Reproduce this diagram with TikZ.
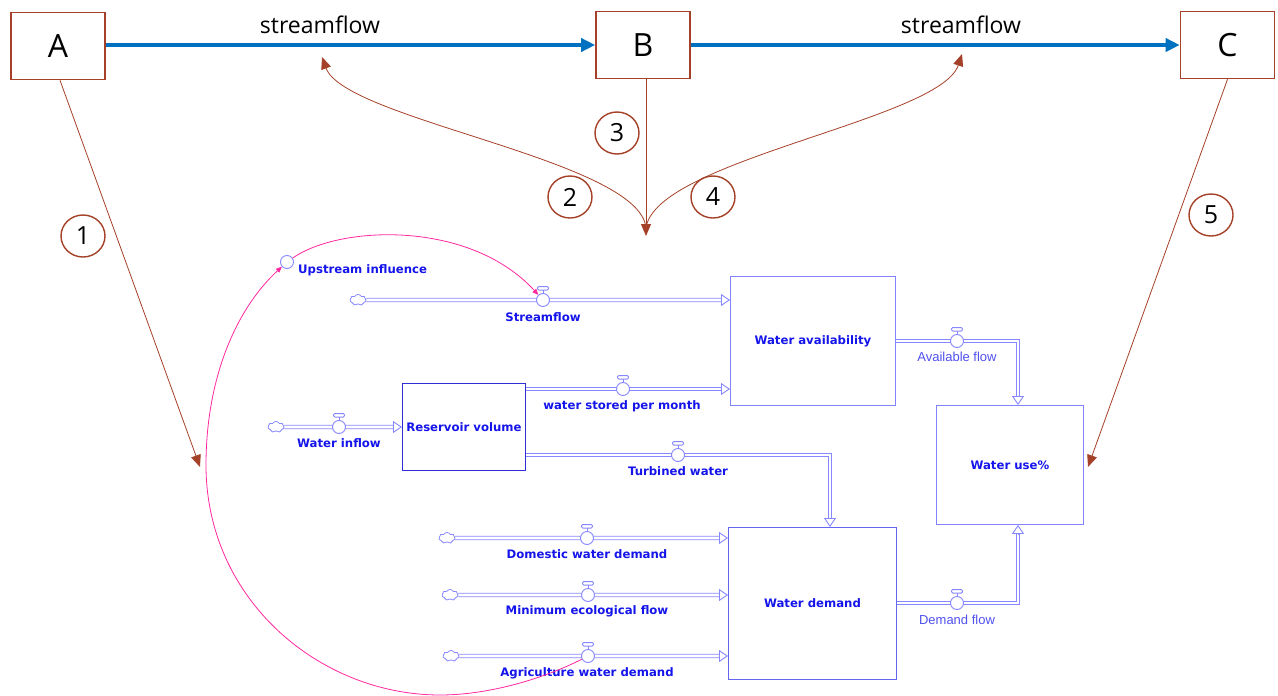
\documentclass[tikz,border=0pt]{standalone}
\usepackage{fontspec}
\setmainfont{Open Sans}
\newfontfamily\vfont{DejaVu Sans}
\newfontfamily\lfont{Liberation Sans}
\usetikzlibrary{arrows.meta,shapes.symbols,shapes.geometric,calc}

\definecolor{brn}{RGB}{165,65,40}
\definecolor{strm}{RGB}{0,112,192}
\definecolor{pipec}{RGB}{135,135,255}
\definecolor{vtext}{RGB}{20,20,235}
\definecolor{vlight}{RGB}{80,80,240}
\definecolor{pinkln}{RGB}{255,40,160}
\definecolor{stockA}{RGB}{130,130,255}
\definecolor{stockB}{RGB}{45,45,210}
\definecolor{stockC}{RGB}{100,100,245}

\tikzset{
  site/.style={draw=brn, line width=1.6pt, fill=white, minimum width=94pt,
    minimum height=67pt, inner sep=0pt, font=\fontsize{32}{34}\selectfont},
  num/.style={ellipse, draw=brn, line width=1.4pt, minimum width=44pt,
    minimum height=42pt, inner sep=0pt, font=\fontsize{25}{26}\selectfont},
  link/.style={draw=brn, line width=0.8pt, -{Triangle[length=12pt,width=10pt]}},
  river/.style={draw=strm, line width=4pt, -{Triangle[length=14pt,width=13pt]}},
  sflabel/.style={inner sep=0pt, font=\fontsize{23}{25}\selectfont},
  stock/.style={draw=#1, line width=0.9pt, fill=white, inner sep=0pt,
    anchor=north west, text=vtext, font=\vfont\bfseries\fontsize{11.7}{13}\selectfont},
  vlab/.style={inner sep=0pt, text=vtext, font=\vfont\bfseries\fontsize{11.7}{13}\selectfont},
  vlabthin/.style={inner sep=0pt, text=vlight, font=\lfont\fontsize{13}{15}\selectfont},
  pipeln/.style={draw=pipec, line width=0.9pt, double=white, double distance=2.6pt},
  pipetip/.style={draw=pipec, line width=0.9pt, -{Triangle[open,length=9pt,width=12pt]}},
  source/.style={cloud, cloud puffs=7, cloud puff arc=120, aspect=1.4, draw=pipec,
    line width=0.8pt, fill=white, minimum width=16pt, minimum height=11pt, inner sep=0pt},
  aux/.style={circle, draw=pipec, line width=0.9pt, fill=white, minimum size=13pt, inner sep=0pt},
  pinkarr/.style={draw=pinkln, line width=0.8pt, -{Triangle[length=6pt,width=5pt]}},
  pics/valve/.style={code={
    \node[circle, draw=pipec, line width=0.9pt, fill=white, minimum size=13pt, inner sep=0pt] (-c) {};
    \draw[draw=pipec, line width=0.9pt] (-c.north) -- ++(0,-3);
    \draw[draw=pipec, line width=0.9pt, fill=white, rounded corners=1.2pt]
      (-c.north) ++(-5.5,-3) rectangle ++(11,-3.5);
  }}
}
% hollow arrow head closing a pipe: point, offset back along the pipe
\newcommand\pipehead[2]{\draw[pipetip] ($(#1)+#2$) -- (#1);}

\begin{document}
\begin{tikzpicture}[x=1pt, y=-1pt]
\fill[white] (0,0) rectangle (1278,696);
\path[use as bounding box] (0,0) rectangle (1278,696);

% ---------- river reaches ----------
\node[site] (A) at (58,46) {A};
\node[site] (B) at (643,45) {B};
\node[site] (C) at (1227.5,45) {C};

\draw[river] (A.east |- B.west) -- (B.west);
\draw[river] (B.east) -- (C.west);
\node[sflabel] (sfA) at (320,25) {streamflow};
\node[sflabel] (sfB) at (961,25) {streamflow};

\coordinate (t1) at (200,467);
\coordinate (t5) at (1088,467);
\coordinate (meet) at (646,236);
\coordinate (meetc) at (646,228);
\coordinate (sfApt) at (322,57);
\coordinate (sfBpt) at (962,54);

\draw[link] ([xshift=2pt]A.south) -- (t1);
\draw[link] (C.south) -- (t5);
\draw[link] (B.south -| meet) -- (meet);
\draw[link] (meetc) .. controls (640,160) and (345,120) .. (sfApt);
\draw[link] (meetc) .. controls (655,160) and (940,120) .. (sfBpt);

\node[num] (n1) at (83,236) {1};
\node[num] (n2) at (570,197) {2};
\node[num] (n3) at (617,133) {3};
\node[num] (n4) at (713,197) {4};
\node[num] (n5) at (1211,215) {5};

% ---------- stocks ----------
\node[stock=stockA, minimum width=165pt, minimum height=129pt] (wa) at (730,276) {Water availability};
\node[stock=stockB, minimum width=123pt, minimum height=87pt] (rv) at (402,383) {Reservoir volume};
\node[stock=stockA, minimum width=147pt, minimum height=119pt] (wu) at (936,405) {Water use\%};
\node[stock=stockC, minimum width=168pt, minimum height=152pt] (wd) at (728,527) {Water demand};

% ---------- sources ----------
\node[source] (cSf) at (358,300) {};
\node[source] (cIn) at (276,427) {};
\node[source] (cDo) at (447,538) {};
\node[source] (cMi) at (450,595) {};
\node[source] (cAg) at (451,656) {};

% ---------- flow pipes ----------
\coordinate (eSf) at (wa.west |- cSf);
\draw[pipeln, shorten >=9pt] (cSf.east) -- (eSf);
\pipehead{eSf}{(-9.5,0)}

\coordinate (eIn) at (rv.west |- cIn);
\draw[pipeln, shorten >=9pt] (cIn.east) -- (eIn);
\pipehead{eIn}{(-9.5,0)}

\coordinate (sSt) at (rv.east |- 0,389);
\coordinate (eSt) at (wa.west |- sSt);
\draw[pipeln, shorten >=9pt] (sSt) -- (eSt);
\pipehead{eSt}{(-9.5,0)}

\coordinate (sTw) at (rv.east |- 0,455);
\coordinate (eTw) at (wd.north -| 830,0);
\draw[pipeln, shorten >=9pt] (sTw) -| (eTw);
\pipehead{eTw}{(0,-9.5)}

\coordinate (sAv) at (wa.east |- 0,341);
\coordinate (eAv) at (wu.north -| 1018,0);
\draw[pipeln, shorten >=9pt] (sAv) -| (eAv);
\pipehead{eAv}{(0,-9.5)}

\coordinate (sDf) at (wd.east |- 0,603);
\coordinate (eDf) at (wu.south -| 1018,0);
\draw[pipeln, shorten >=9pt] (sDf) -| (eDf);
\pipehead{eDf}{(0,9.5)}

\coordinate (eDo) at (wd.west |- cDo);
\draw[pipeln, shorten >=9pt] (cDo.east) -- (eDo);
\pipehead{eDo}{(-9.5,0)}

\coordinate (eMi) at (wd.west |- cMi);
\draw[pipeln, shorten >=9pt] (cMi.east) -- (eMi);
\pipehead{eMi}{(-9.5,0)}

\coordinate (eAg) at (wd.west |- cAg);
\draw[pipeln, shorten >=9pt] (cAg.east) -- (eAg);
\pipehead{eAg}{(-9.5,0)}

% ---------- valves ----------
\pic (sf) at (543,300) {valve};
\pic (in) at (339,427) {valve};
\pic (st) at (623,389) {valve};
\pic (tw) at (678,455) {valve};
\pic (av) at (957,341) {valve};
\pic (df) at (957,603) {valve};
\pic (do) at (587,538) {valve};
\pic (mi) at (588,595) {valve};
\pic (ag) at (588,656) {valve};

% ---------- auxiliary ----------
\node[aux] (up) at (287,262) {};

% ---------- labels ----------
\node[vlab, anchor=west] (lUp) at (298,270) {Upstream influence};
\node[vlab] (lSf) at (543,317) {Streamflow};
\node[vlab] (lIn) at (339,443) {Water inflow};
\node[vlab] (lSt) at (622,406) {water stored per month};
\node[vlab] (lTw) at (678,471) {Turbined water};
\node[vlabthin] (lAv) at (957,357) {Available flow};
\node[vlabthin] (lDf) at (957,620) {Demand flow};
\node[vlab] (lDo) at (587,554) {Domestic water demand};
\node[vlab] (lMi) at (587,611) {Minimum ecological flow};
\node[vlab] (lAg) at (587,673) {Agriculture water demand};

% ---------- influence links ----------
\coordinate (arcB) at (440,695);
\coordinate (arcL) at (206,465);
\draw[pinkarr] (up) .. controls (340,225) and (470,220) .. (sf-c);
\draw[pinkarr] (ag-c) .. controls (545,678) and (490,695) .. (arcB)
  .. controls (320,695) and (206,600) .. (arcL)
  .. controls (206,380) and (235,310) .. (up);
\end{tikzpicture}
\end{document}
